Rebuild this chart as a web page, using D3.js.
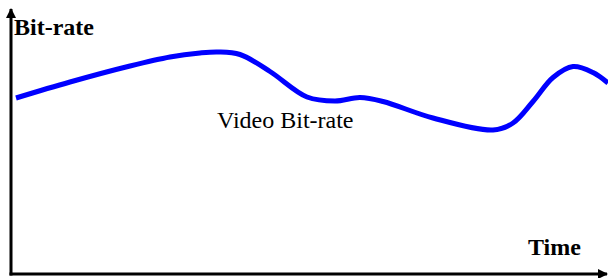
<!DOCTYPE html>
<html>
<head>
<meta charset="utf-8">
<script src="https://cdn.jsdelivr.net/npm/d3@7"></script>
<style>
  body{margin:0;background:#fff;}
  svg{display:block;}
  text{font-family:"Liberation Serif", "Times New Roman", Times, serif;}
</style>
</head>
<body>
<div class="chart"></div>
<script>
// data (time and bit-rate in arbitrary units)
const times    = [5, 59, 119, 159, 189, 207, 229, 259, 296, 324, 349, 372, 422, 482, 502, 522, 542, 562, 582, 597];
const bitrates = [176, 192, 208, 217, 221, 222, 219.5, 202.5, 177, 173, 176.5, 172.5, 156, 144, 151, 172.5, 196.5, 207.5, 201.5, 191];
const seriesLabel = 'Video Bit-rate';
const yLabel = 'Bit-rate';
const xLabel = 'Time';

const width = 608, height = 278;
const svg = d3.select('.chart').append('svg')
  .attr('width', width).attr('height', height);

const xScale = d3.scaleLinear().domain([0, 597]).range([11, 608]);
const yScale = d3.scaleLinear().domain([0, 266]).range([274, 8]);

// arrow heads
svg.append('defs').append('marker').attr('id', 'arrow')
  .attr('viewBox', '0 0 10 10').attr('refX', 9).attr('refY', 5)
  .attr('markerWidth', 3.4).attr('markerHeight', 3.4)
  .attr('markerUnits', 'strokeWidth')
  .attr('orient', 'auto')
  .append('path').attr('d', 'M0,0 L10,5 L0,10 Z').attr('fill', '#000');

// axes
svg.append('line')
  .attr('x1', xScale(0)).attr('y1', yScale(0) + 1.5)
  .attr('x2', xScale(0)).attr('y2', yScale(266) + 1)
  .attr('stroke', '#000').attr('stroke-width', 3)
  .attr('marker-end', 'url(#arrow)');
svg.append('line')
  .attr('x1', xScale(0) - 1.5).attr('y1', yScale(0))
  .attr('x2', xScale(596)).attr('y2', yScale(0))
  .attr('stroke', '#000').attr('stroke-width', 3)
  .attr('marker-end', 'url(#arrow)');

// curve
const data = times.map((t, i) => ({time: t, rate: bitrates[i]}));
const line = d3.line()
  .x(d => xScale(d.time))
  .y(d => yScale(d.rate))
  .curve(d3.curveCatmullRom.alpha(0.5));
svg.append('path').datum(data)
  .attr('d', line)
  .attr('fill', 'none')
  .attr('stroke', '#0000ff')
  .attr('stroke-width', 5);

// labels
svg.append('text').text(yLabel)
  .attr('x', 14).attr('y', 35)
  .style('font-weight', 'bold').style('font-size', '24px');
svg.append('text').text(xLabel)
  .attr('x', 528).attr('y', 255)
  .style('font-weight', 'bold').style('font-size', '24px');
svg.append('text').text(seriesLabel)
  .attr('x', 217).attr('y', 128)
  .style('font-size', '24px');
</script>
</body>
</html>
